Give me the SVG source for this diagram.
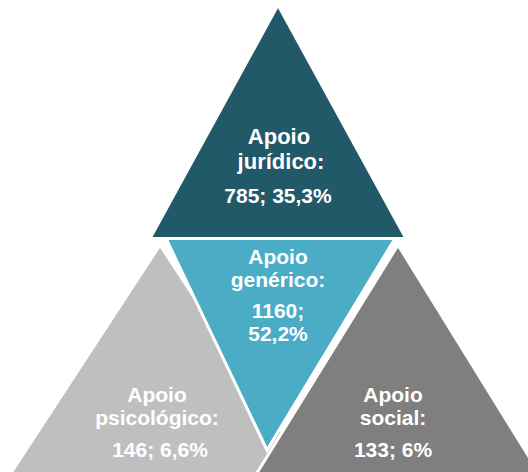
<svg xmlns="http://www.w3.org/2000/svg" width="528" height="472" viewBox="0 0 528 472">
<style>
  .shape { stroke: #FFFFFF; stroke-width: 3; stroke-linejoin: miter; }
  .lbl { font-family: "Liberation Sans", Arial, sans-serif; font-weight: bold; font-size: 21px; fill: #FFFFFF; text-anchor: middle; }
  .big { font-size: 22px; }
</style>
<rect width="528" height="472" fill="#FFFFFF"/>
<g id="node-psicologico">
  <polygon class="shape" points="160,245 -8,502 328,502" fill="#BFBFBF"/>
  <text class="lbl" x="157" y="402">Apoio</text>
  <text class="lbl" x="157" y="425">psicológico:</text>
  <text class="lbl" x="160" y="457">146; 6,6%</text>
</g>
<g id="node-social">
  <polygon class="shape" points="398,245 239,502 557,502" fill="#7F7F7F"/>
  <text class="lbl" x="393" y="402">Apoio</text>
  <text class="lbl" x="393" y="425">social:</text>
  <text class="lbl" x="393" y="457">133; 6%</text>
</g>
<g id="node-juridico">
  <polygon class="shape" points="278,5 150,238.5 406,238.5" fill="#215968"/>
  <text class="lbl big" x="279" y="144">Apoio</text>
  <text class="lbl big" x="281" y="169">jurídico:</text>
  <text class="lbl" x="278" y="203">785; 35,3%</text>
</g>
<g id="node-generico">
  <polygon class="shape" points="166,238.5 395,238.5 267,450" fill="#4BACC6"/>
  <text class="lbl" x="278" y="264">Apoio</text>
  <text class="lbl" x="278" y="287">genérico:</text>
  <text class="lbl" x="278" y="318">1160;</text>
  <text class="lbl" x="278" y="341">52,2%</text>
</g>
<g id="connectors"></g>
</svg>
